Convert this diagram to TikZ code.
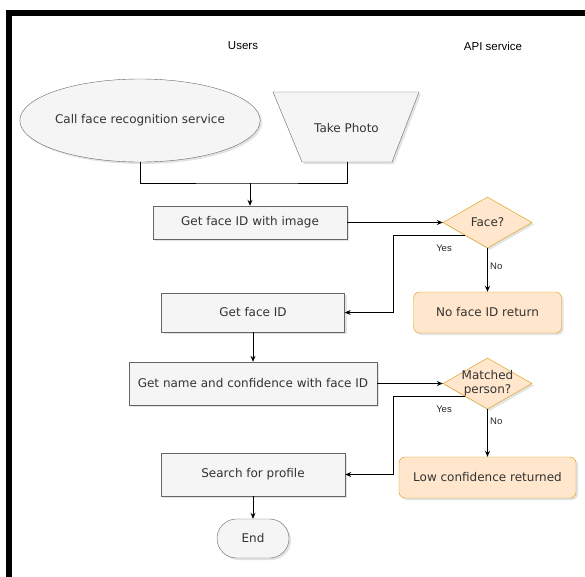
\documentclass[tikz,border=0pt]{standalone}
\usepackage{fontspec}
\setmainfont{DejaVu Sans}
\newfontfamily\arialfont{Liberation Sans}
\usepackage{xcolor}
\usetikzlibrary{arrows.meta, positioning, shapes.geometric, shapes.misc, shadows, calc}

\definecolor{boxfill}{HTML}{F5F5F5}
\definecolor{boxline}{HTML}{666666}
\definecolor{boxtext}{HTML}{333333}
\definecolor{warnfill}{HTML}{FFE6CC}
\definecolor{warnline}{HTML}{D79B00}

\begin{document}
\begin{tikzpicture}[x=1pt, y=-1pt, >={Stealth[length=6pt, width=5pt]}]
    % Define styles
    \tikzstyle{boxshadow}=[drop shadow={shadow xshift=2pt, shadow yshift=-2pt, fill=black!22}]
    \tikzstyle{process}=[rectangle, draw=boxline, fill=boxfill, text=boxtext, inner sep=0pt,
        font=\fontsize{12}{14}\selectfont, boxshadow]
    \tikzstyle{result}=[process, rounded corners=6pt, draw=warnline, fill=warnfill]
    \tikzstyle{decision}=[diamond, draw=warnline, fill=warnfill, inner sep=0pt,
        minimum width=89pt, minimum height=51pt, boxshadow]
    \tikzstyle{decision text}=[text=boxtext, align=center, font=\fontsize{12}{14}\selectfont]
    \tikzstyle{lane}=[font=\arialfont\fontsize{11.5}{13}\selectfont]
    \tikzstyle{branch}=[font=\arialfont\fontsize{9.5}{11}\selectfont, text=black!85, inner sep=0pt]
    \tikzstyle{edge}=[draw=black, line width=0.9pt]

    % Frame
    \useasboundingbox (0,0) rectangle (585,576);
    \clip (0,0) rectangle (585,576);
    \draw[line width=6pt] (9,13) rectangle (588,610);

    % Lane titles
    \node[lane] (users) at (243,46) {Users};
    \node[lane] (api) at (493,46) {API service};

    % Start shapes
    \node[process, ellipse, minimum width=216pt, minimum height=83pt] (call) at (140,120.5) {Call face recognition service};
    \draw[draw=boxline, fill=boxfill, boxshadow] (273,92) -- (419,92) -- (392,162) -- (302,162) -- cycle;
    \node[text=boxtext, font=\fontsize{12}{14}\selectfont] (photo) at (346.5,128) {Take Photo};
    \coordinate (photobase) at (347,162);

    % Draw the steps
    \foreach \name/\x/\y/\w/\h/\txt in {getimg/250/222.5/194/33/Get face ID with image,
            getid/253/312.5/183/39/Get face ID,
            getname/253/383.5/248/43/Get name and confidence with face ID,
            search/253/474.5/184/43/Search for profile}
        \node[process, minimum width=\w pt, minimum height=\h pt] (\name) at (\x,\y) {\txt};
    \node[process, rounded rectangle, minimum width=72pt, minimum height=39pt] (finish) at (253,538.5) {End};

    % Draw the checks and their results
    \node[decision, label={[decision text]center:Face?}] (face) at (487.5,222.5) {};
    \node[decision, label={[decision text]center:Matched\\person?}] (matched) at (487.5,383.5) {};
    \node[result, minimum width=148pt, minimum height=41pt] (noface) at (487.5,312.5) {No face ID return};
    \node[result, minimum width=177pt, minimum height=41pt] (lowconf) at (487.5,477.5) {Low confidence returned};

    % Draw the edges
    \coordinate (join) at (250,183);
    \draw[edge] (call.south) |- (join) -| (photobase);
    \draw[edge, ->] (join) -- (getimg.north);
    \draw[edge, ->] (getimg) -- (face);
    \draw[edge, ->] ($(face.west)!0.5!(face.south)$) -- ++(-72,0) |- (getid.east);
    \draw[edge, ->] (face) -- (noface);
    \draw[edge, ->] (getid) -- (getname);
    \draw[edge, ->] (getname) -- (matched);
    \draw[edge, ->] ($(matched.west)!0.5!(matched.south)$) -- ++(-72,0) |- (search.east);
    \draw[edge, ->] (matched) -- (lowconf);
    \draw[edge, ->] (search) -- (finish);

    % Branch labels
    \node[branch] (yes1) at (444,248) {Yes};
    \node[branch, anchor=west] (no1) at (490,266) {No};
    \node[branch] (yes2) at (444,409) {Yes};
    \node[branch, anchor=west] (no2) at (490,421) {No};
\end{tikzpicture}
\end{document}
